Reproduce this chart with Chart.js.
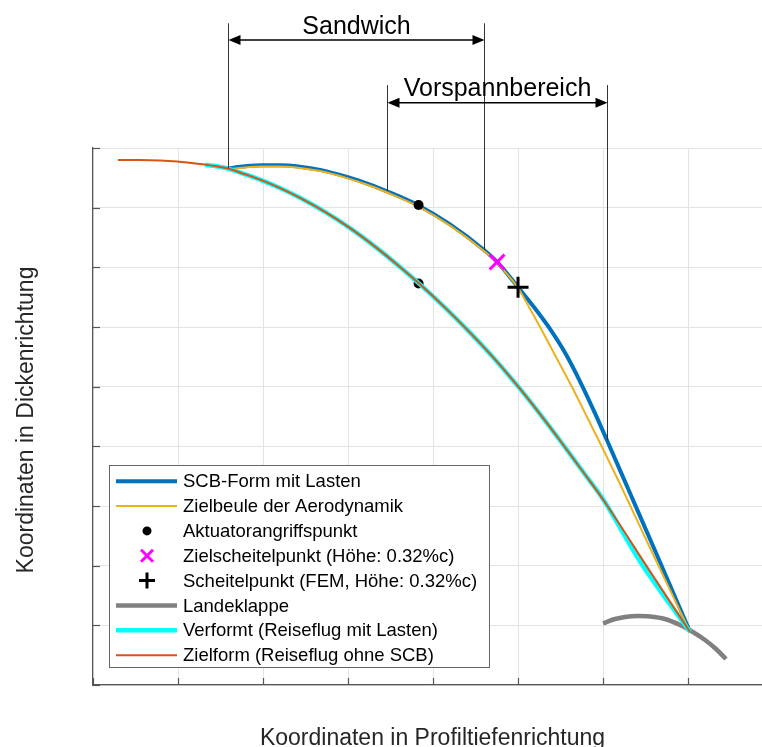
<!DOCTYPE html>
<html><head><meta charset="utf-8">
<script src="https://cdn.jsdelivr.net/npm/chart.js@4/dist/chart.umd.min.js"></script>
<style>html,body{margin:0;padding:0;background:#fff;overflow:hidden}canvas{display:block}</style>
</head><body>
<canvas id="c" width="762" height="747"></canvas>
<script>
// ---- data (grid units of the figure) ----
const labels = ["SCB-Form mit Lasten", "Zielbeule der Aerodynamik", "Aktuatorangriffspunkt",
  "Zielscheitelpunkt (Höhe: 0.32%c)", "Scheitelpunkt (FEM, Höhe: 0.32%c)", "Landeklappe",
  "Verformt (Reiseflug mit Lasten)", "Zielform (Reiseflug ohne SCB)"];

const scbX = [1.588,1.788,1.988,2.2,2.435,2.671,2.988,3.259,3.459,3.824,4.2,4.6,4.753,5.0,5.188,5.376,5.565,5.753,5.906,6.059,6.318,6.671,7.024];
const scbY = [8.659,8.693,8.710,8.710,8.686,8.633,8.515,8.388,8.274,8.041,7.719,7.292,7.091,6.668,6.333,5.968,5.539,5.019,4.552,4.061,3.213,2.056,0.888];

const beuleX = [1.588,1.788,1.988,2.2,2.435,2.671,2.988,3.259,3.459,3.824,4.2,4.6,4.753,5.0,5.129,5.259,5.447,5.635,5.812,5.988,6.2,6.553,7.024];
const beuleY = [8.639,8.673,8.690,8.690,8.666,8.613,8.495,8.368,8.254,8.021,7.699,7.272,7.071,6.653,6.335,6.0,5.497,4.994,4.491,3.989,3.369,2.296,0.888];

const aktX = [3.83, 3.83];
const aktY = [8.044, 6.73];

const zielScheitelX = [4.753];
const zielScheitelY = [7.089];

const scheitelX = [5.0];
const scheitelY = [6.665];

const klappeX = [6.0,6.141,6.259,6.4,6.553,6.729,6.906,7.047,7.2,7.329,7.447];
const klappeY = [1.034,1.106,1.140,1.156,1.148,1.106,1.006,0.897,0.754,0.603,0.436];

const verformtX = [1.318,1.435,1.588,1.788,1.988,2.2,2.435,2.729,3.024,3.318,3.612,3.847,4.141,4.435,4.729,5.024,5.259,5.494,5.788,5.976,6.447,7.024];
const verformtY = [8.718,8.698,8.655,8.560,8.458,8.329,8.165,7.930,7.657,7.347,7.007,6.715,6.325,5.906,5.457,4.962,4.540,4.098,3.528,3.167,2.045,0.888];

const zielformX = [0.294,0.553,0.788,0.988,1.259,1.435,1.588,1.788,1.988,2.2,2.435,2.729,3.024,3.318,3.612,3.847,4.141,4.435,4.729,5.024,5.259,5.494,5.788,6.024,6.553,7.024];
const zielformY = [8.798,8.798,8.792,8.775,8.733,8.698,8.655,8.560,8.458,8.329,8.165,7.930,7.657,7.347,7.007,6.715,6.325,5.906,5.457,4.962,4.540,4.098,3.528,3.058,1.904,0.888];

const xTicks = [0,1,2,3,4,5,6,7];
const yTicks = [0,1,2,3,4,5,6,7,8,9];

// range annotations: label, x-start, x-end, arrow level, line top, line ends on curve
const rangeLabels = ["Sandwich", "Vorspannbereich"];
const rangeX1 = [1.588, 3.455];
const rangeX2 = [4.6, 6.047];
const rangeArrowY = [10.81, 9.759];
const rangeTopY = [11.09, 10.055];
const rangeEnd1Y = [8.659, 8.28];
const rangeEnd2Y = [7.29, 4.1];

const axisTitleX = "Koordinaten in Profiltiefenrichtung";
const axisTitleY = "Koordinaten in Dickenrichtung";

// ---- build ----
const pts = (xs, ys) => xs.map((v, i) => ({x: v, y: ys[i]}));
const FONT = "'Liberation Sans', Arial, sans-serif";

const styles = [
  {type:'line', color:'#0072BD', w:4},
  {type:'line', color:'#EDB120', w:2},
  {type:'dot'},
  {type:'x'},
  {type:'plus'},
  {type:'line', color:'#808080', w:4.5},
  {type:'line', color:'#00FFFF', w:4.5},
  {type:'line', color:'#D95319', w:2},
];

const lineDs = (label, data, color, w, order) => ({
  label, data, showLine: true, borderColor: color, backgroundColor: color, borderWidth: w,
  pointRadius: 0, pointHoverRadius: 0, cubicInterpolationMode: 'monotone',
  borderJoinStyle: 'round', borderCapStyle: 'butt', order
});

const datasets = [
  lineDs(labels[0], pts(scbX, scbY), '#0072BD', 4, 8),
  lineDs(labels[1], pts(beuleX, beuleY), '#EDB120', 2, 7),
  {label: labels[2], data: pts(aktX, aktY), showLine: false, pointStyle: 'circle', pointRadius: 5,
   backgroundColor: '#000', borderColor: '#000', borderWidth: 0, order: 6},
  {label: labels[3], data: pts(zielScheitelX, zielScheitelY), showLine: false, pointStyle: 'crossRot',
   pointRadius: 10.5, borderColor: '#FF00FF', backgroundColor: '#FF00FF', borderWidth: 3, order: 5},
  {label: labels[4], data: pts(scheitelX, scheitelY), showLine: false, pointStyle: 'cross',
   pointRadius: 10.5, borderColor: '#000', backgroundColor: '#000', borderWidth: 3, order: 4},
  lineDs(labels[5], pts(klappeX, klappeY), '#808080', 4.5, 3),
  lineDs(labels[6], pts(verformtX, verformtY), '#00FFFF', 4.5, 2),
  lineDs(labels[7], pts(zielformX, zielformY), '#D95319', 2, 1),
];

const isInt = v => Math.abs(v - Math.round(v)) < 1e-6;

const deco = {
  id: 'deco',
  afterDraw(chart) {
    const {ctx, chartArea: a} = chart;
    const xs = chart.scales.x, ys = chart.scales.y;
    ctx.save();
    // inward tick marks
    ctx.strokeStyle = '#555'; ctx.lineWidth = 1.2;
    yTicks.forEach(v => {
      const py = Math.round(ys.getPixelForValue(v)) + 0.5;
      ctx.beginPath(); ctx.moveTo(a.left, py); ctx.lineTo(a.left + 7, py); ctx.stroke();
    });
    xTicks.forEach(v => {
      const px = Math.round(xs.getPixelForValue(v)) + 0.5;
      ctx.beginPath(); ctx.moveTo(px, a.bottom); ctx.lineTo(px, a.bottom - 7); ctx.stroke();
    });

    // range brackets
    rangeLabels.forEach((lab, i) => {
      const x1 = Math.round(xs.getPixelForValue(rangeX1[i])) + 0.5;
      const x2 = Math.round(xs.getPixelForValue(rangeX2[i])) + 0.5;
      const yA = ys.getPixelForValue(rangeArrowY[i]);
      const yT = ys.getPixelForValue(rangeTopY[i]);
      ctx.strokeStyle = '#333'; ctx.lineWidth = 1;
      ctx.beginPath();
      ctx.moveTo(x1, yT); ctx.lineTo(x1, ys.getPixelForValue(rangeEnd1Y[i]));
      ctx.moveTo(x2, yT); ctx.lineTo(x2, ys.getPixelForValue(rangeEnd2Y[i]));
      ctx.stroke();
      ctx.strokeStyle = '#000'; ctx.lineWidth = 1.4;
      ctx.beginPath(); ctx.moveTo(x1 + 6, yA); ctx.lineTo(x2 - 6, yA); ctx.stroke();
      ctx.fillStyle = '#000';
      ctx.beginPath(); ctx.moveTo(x1, yA); ctx.lineTo(x1 + 12, yA - 5); ctx.lineTo(x1 + 12, yA + 5); ctx.closePath(); ctx.fill();
      ctx.beginPath(); ctx.moveTo(x2, yA); ctx.lineTo(x2 - 12, yA - 5); ctx.lineTo(x2 - 12, yA + 5); ctx.closePath(); ctx.fill();
      ctx.font = '25px ' + FONT; ctx.textAlign = 'center'; ctx.textBaseline = 'alphabetic';
      ctx.fillText(lab, (x1 + x2) / 2, yA - 6.5);
    });

    // legend
    const L = 109.5, T = 465.5, W = 380, H = 202;
    ctx.fillStyle = '#fff'; ctx.fillRect(L, T, W, H);
    ctx.strokeStyle = '#666'; ctx.lineWidth = 1; ctx.strokeRect(L, T, W, H);
    ctx.font = '18.5px ' + FONT; ctx.textAlign = 'left'; ctx.textBaseline = 'middle';
    labels.forEach((lab, i) => {
      const cy = 481.2 + i * 24.85;
      const s = styles[i];
      if (s.type === 'line') {
        ctx.strokeStyle = s.color; ctx.lineWidth = s.w;
        ctx.beginPath(); ctx.moveTo(116, cy); ctx.lineTo(177, cy); ctx.stroke();
      } else if (s.type === 'dot') {
        ctx.fillStyle = '#000'; ctx.beginPath(); ctx.arc(147, cy, 4.5, 0, Math.PI * 2); ctx.fill();
      } else if (s.type === 'x') {
        ctx.strokeStyle = '#FF00FF'; ctx.lineWidth = 3;
        ctx.beginPath(); ctx.moveTo(141, cy - 6); ctx.lineTo(153, cy + 6); ctx.moveTo(153, cy - 6); ctx.lineTo(141, cy + 6); ctx.stroke();
      } else if (s.type === 'plus') {
        ctx.strokeStyle = '#000'; ctx.lineWidth = 3;
        ctx.beginPath(); ctx.moveTo(139, cy); ctx.lineTo(155, cy); ctx.moveTo(147, cy - 8); ctx.lineTo(147, cy + 8); ctx.stroke();
      }
      ctx.fillStyle = '#000';
      ctx.fillText(lab, 183, cy + 1);
    });

    // axis titles
    ctx.fillStyle = '#262626'; ctx.font = '23px ' + FONT; ctx.textAlign = 'center'; ctx.textBaseline = 'alphabetic';
    ctx.fillText(axisTitleX, 432.5, 745);
    ctx.save(); ctx.translate(33, 420); ctx.rotate(-Math.PI / 2); ctx.fillText(axisTitleY, 0, 0); ctx.restore();
    ctx.restore();
  }
};

new Chart(document.getElementById('c'), {
  type: 'scatter',
  data: { datasets },
  options: {
    responsive: false, devicePixelRatio: 1, animation: false,
    layout: { autoPadding: false, padding: { left: 93, top: 148, right: 0, bottom: 62 } },
    plugins: { legend: { display: false }, tooltip: { enabled: false } },
    scales: {
      x: { type: 'linear', min: 0, max: 7.87,
        ticks: { display: false, stepSize: 1 },
        grid: { drawTicks: false, color: ctx => isInt(ctx.tick.value) ? '#e3e3e3' : 'rgba(0,0,0,0)', lineWidth: 1 },
        border: { display: true, color: '#555', width: 1.2 } },
      y: { type: 'linear', min: 0, max: 9,
        ticks: { display: false, stepSize: 1 },
        grid: { drawTicks: false, color: '#e3e3e3', lineWidth: 1 },
        border: { display: true, color: '#555', width: 1.2 } }
    }
  },
  plugins: [deco]
});
</script>
</body></html>
